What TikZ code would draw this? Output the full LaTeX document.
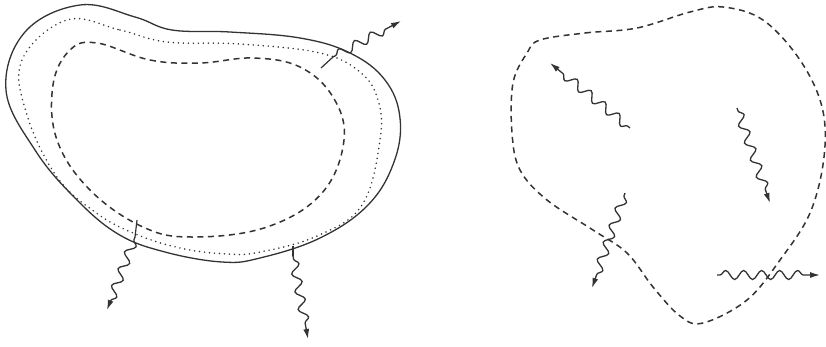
\documentclass[tikz,border=0pt]{standalone}
\usetikzlibrary{arrows.meta,decorations.pathmorphing}
\definecolor{ink}{HTML}{333333}
\tikzset{
  outerline/.style={ink, line width=1.3pt},
  dotline/.style={ink, line width=1.7pt, line cap=round, dash pattern=on 0pt off 5pt},
  dashline/.style={ink, line width=1.5pt, dash pattern=on 6pt off 4.5pt},
  wave/.style={ink, line width=1.3pt, decorate,
    decoration={snake, amplitude=4.5pt, segment length=18pt, pre length=3pt, post length=9pt}},
  tip/.style={-{Latex[length=10pt,width=6pt]}},
  stub/.style={ink, line width=1.2pt}
}
\begin{document}
\begin{tikzpicture}[x=1pt,y=-1pt]
\useasboundingbox (0,0) rectangle (826,346);
% ---------- left figure ----------
\draw[outerline] plot[smooth cycle, tension=0.65] coordinates {
 (80,5) (135,17) (172,30) (230,32) (300,38) (350,53) (385,80) (400,118)
 (394,162) (368,205) (320,238) (260,258) (222,262) (165,252) (118,234)
 (75,198) (35,150) (6,90) (25,32)};
\draw[dotline] plot[smooth cycle, tension=0.65] coordinates {
 (67,20) (120,30) (167,42) (240,44) (320,53) (360,72) (378,100) (380,140)
 (362,205) (317,236) (260,252) (227,254) (180,248) (133,233) (95,212)
 (57,177) (27,115) (22,60)};
\draw[dashline] plot[smooth cycle, tension=0.65] coordinates {
 (97,43) (150,60) (200,63) (253,58) (300,67) (333,97) (344,140) (322,193)
 (267,227) (193,237) (143,227) (90,190) (57,140) (53,85) (70,50)};
% wave 1 (top right)
\coordinate (w1a) at (321,68);
\coordinate (w1b) at (333,57);
\coordinate (w1c) at (401,21);
\draw[stub] (w1a) -- (w1b);
\draw[wave,tip] (w1b) -- (w1c);
% wave 2 (bottom left)
\coordinate (w2a) at (137,220);
\coordinate (w2b) at (135,237);
\coordinate (w2c) at (107,310);
\draw[stub] (w2a) -- (w2b);
\draw[wave,tip] (w2b) -- (w2c);
% wave 3 (bottom right)
\coordinate (w3a) at (293,246);
\coordinate (w3b) at (293,256);
\coordinate (w3c) at (308,339);
\draw[stub] (w3a) -- (w3b);
\draw[wave,tip] (w3b) -- (w3c);
% ---------- right figure ----------
\draw[dashline] plot[smooth cycle, tension=0.6] coordinates {
 (540,40) (585,33) (637,28) (690,12) (723,7) (763,20) (800,60) (822,107)
 (824,157) (810,213) (780,260) (747,300) (703,323) (680,316) (653,287)
 (627,253) (593,230) (547,200) (520,170) (512,133) (513,83) (527,53)};
\coordinate (ra) at (630,128);
\coordinate (rA) at (550,63);
\draw[wave,tip] (ra) -- (rA);
\coordinate (rb) at (737,108);
\coordinate (rB) at (770,203);
\draw[wave,tip] (rb) -- (rB);
\coordinate (rc) at (625,193);
\coordinate (rC) at (592,288);
\draw[wave,tip] (rc) -- (rC);
\coordinate (rd) at (717,275);
\coordinate (rD) at (820,275);
\draw[wave,tip] (rd) -- (rD);
\end{tikzpicture}
\end{document}
